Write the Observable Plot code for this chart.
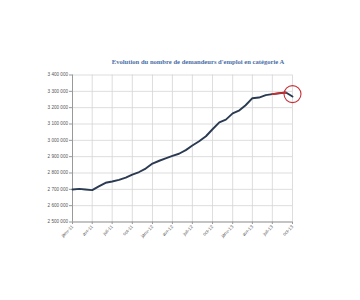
<!DOCTYPE html>
<html>
<head>
<meta charset="utf-8">
<script src="https://cdn.jsdelivr.net/npm/d3@7"></script>
<script src="https://cdn.jsdelivr.net/npm/@observablehq/plot@0.6"></script>
<style>
  html, body { margin: 0; padding: 0; background: #fff; }
  #wrap { position: relative; width: 360px; height: 300px; overflow: hidden; }
  #title { position: absolute; left: 0; width: 396px; top: 58px; text-align: center;
    font-family: "Liberation Serif", "DejaVu Serif", serif; font-weight: bold; font-size: 6.6px; color: #4a6fa8; }
</style>
</head>
<body>
<div id="wrap"><div id="title">Evolution du nombre de demandeurs d'emploi en catégorie A</div></div>
<script>
const months = ["2011-01","2011-02","2011-03","2011-04","2011-05","2011-06","2011-07","2011-08","2011-09","2011-10","2011-11","2011-12",
  "2012-01","2012-02","2012-03","2012-04","2012-05","2012-06","2012-07","2012-08","2012-09","2012-10","2012-11","2012-12",
  "2013-01","2013-02","2013-03","2013-04","2013-05","2013-06","2013-07","2013-08","2013-09","2013-10"];
const demandeurs = [2699000,2703000,2699000,2695000,2718000,2740000,2748000,2758000,2772000,2790000,2806000,2827000,
  2858000,2875000,2890000,2905000,2918000,2940000,2968000,2994000,3025000,3068000,3110000,3127000,
  3165000,3184000,3215000,3258000,3262000,3277000,3283000,3288000,3293000,3268000];
const highlightMonths = ["2013-07","2013-08","2013-09"];
const circleMonth = ["2013-10"];
const circleValue = [3283000];
const xTickDates = ["2011-01","2011-04","2011-07","2011-10","2012-01","2012-04","2012-07","2012-10","2013-01","2013-04","2013-07","2013-10"];
const xTickLabels = ["janv-11","avr-11","juil-11","oct-11","janv-12","avr-12","juil-12","oct-12","janv-13","avr-13","juil-13","oct-13"];
const yTicks = [2500000,2600000,2700000,2800000,2900000,3000000,3100000,3200000,3300000,3400000];

const parse = s => new Date(s + "-01T00:00:00Z");
const data = months.map((m, i) => ({date: parse(m), value: demandeurs[i]}));
const hl = data.filter((d, i) => highlightMonths.includes(months[i]));
const circ = circleMonth.map((m, i) => ({date: parse(m), value: circleValue[i]}));
const xTicks = xTickDates.map(parse);
const labelOf = new Map(xTicks.map((d, i) => [+d, xTickLabels[i]]));
const fmt = v => d3.format(",")(v).replace(/,/g, " ");

const chart = Plot.plot({
  width: 360, height: 300,
  marginLeft: 72, marginRight: 68, marginTop: 74.5, marginBottom: 78.5,
  style: {fontFamily: "'Liberation Sans', Arial, sans-serif", background: "transparent", color: "#555"},
  x: {type: "utc", domain: [xTicks[0], xTicks[xTicks.length - 1]]},
  y: {domain: [2500000, 3400000]},
  marks: [
    Plot.gridX(xTicks, {stroke: "#d4d4d4", strokeOpacity: 1, strokeWidth: 0.8}),
    Plot.gridY(yTicks, {stroke: "#d4d4d4", strokeOpacity: 1, strokeWidth: 0.8}),
    Plot.axisY({ticks: yTicks, tickFormat: fmt, fontSize: 4.6, tickSize: 3, tickPadding: 1.5, stroke: "#999", label: null}),
    Plot.axisX({ticks: xTicks, tickFormat: d => labelOf.get(+d), tickRotate: -45, fontSize: 4.6, tickSize: 2.5, tickPadding: 1.5, stroke: "#999", label: null}),
    Plot.ruleY([2500000], {stroke: "#999", strokeWidth: 1}),
    Plot.ruleX([xTicks[0]], {stroke: "#999", strokeWidth: 1}),
    Plot.line(data, {x: "date", y: "value", stroke: "#2a3a52", strokeWidth: 1.9, curve: "linear"}),
    Plot.line(hl, {x: "date", y: "value", stroke: "#d42a2a", strokeWidth: 1.6}),
    Plot.dot(circ, {x: "date", y: "value", r: 8.5, stroke: "#c8303a", strokeWidth: 1.1, fill: "none"})
  ]
});
document.getElementById("wrap").appendChild(chart);
</script>
</body>
</html>
